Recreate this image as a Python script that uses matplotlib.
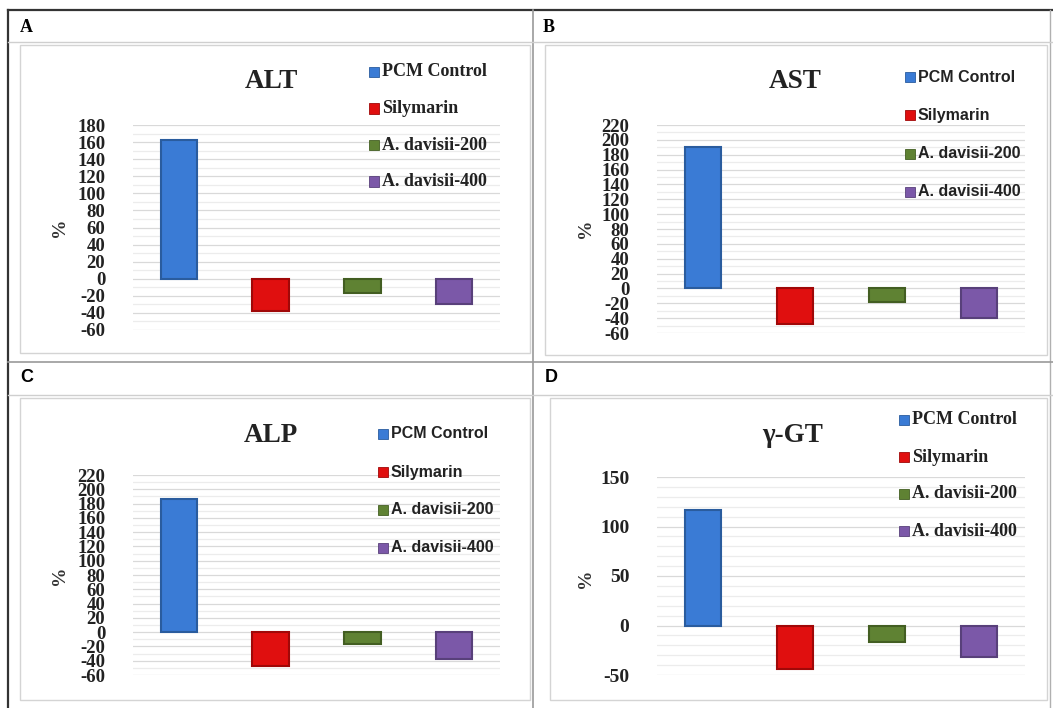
import matplotlib
matplotlib.use('Agg')
import matplotlib.pyplot as plt
from matplotlib.patches import Rectangle
from matplotlib.lines import Line2D

plt.rcParams['axes.unicode_minus'] = False

# values (percent change)
groups = ['PCM Control', 'Silymarin', 'A. davisii-200', 'A. davisii-400']
alt = [163, -38, -17, -30]
ast = [190, -48, -18, -40]
alp = [186, -47, -16, -38]
ggt = [117, -44, -17, -32]

titles = ['ALT', 'AST', 'ALP', 'γ-GT']
letters = ['A', 'B', 'C', 'D']

bar_colors = ['#3a7bd5', '#e00f0f', '#5f8233', '#7b58a8']
edge_colors = ['#2a5c9e', '#a00808', '#435e22', '#58407a']

W, H = 1053, 708
fig = plt.figure(figsize=(W / 100, H / 100), dpi=100)
fig.patch.set_facecolor('white')

def fx(x):
    return x / W

def fy(y):
    return 1 - y / H

def hline(y, x0, x1, color, lw=1.0):
    fig.add_artist(Line2D([fx(x0), fx(x1)], [fy(y), fy(y)], color=color, lw=lw))

def vline(x, y0, y1, color, lw=1.0):
    fig.add_artist(Line2D([fx(x), fx(x)], [fy(y0), fy(y1)], color=color, lw=lw))

# outer frame / table grid
hline(10, 8, 1053, '#333333', 1.6)
vline(8, 10, 708, '#333333', 1.6)
vline(533, 10, 708, '#9a9a9a', 1.2)
vline(1050, 10, 708, '#b0b0b0', 1.0)
hline(362, 8, 1053, '#9a9a9a', 1.2)
hline(42, 8, 1053, '#cfcfcf', 1.0)
hline(395, 8, 1053, '#cfcfcf', 1.0)

# chart-area boxes
boxes = [(20, 45, 530, 353), (545, 45, 1047, 355), (20, 398, 530, 700), (550, 398, 1047, 700)]
for (x0, y0, x1, y1) in boxes:
    fig.add_artist(Rectangle((fx(x0), fy(y1)), fx(x1) - fx(x0), fy(y0) - fy(y1),
                             fill=False, edgecolor='#d4d4d4', lw=1.0, transform=fig.transFigure))

panels = [
    dict(data=alt, plot=(133, 125, 500, 330), ylim=(-60, 180), step=20, minor=10,
         serif=True, letter_xy=(20, 27), title_xy=(271, 82), pct_xy=(60, 227),
         leg_xy=(369, 72), leg_dy=36.5, tick_size=13.5),
    dict(data=ast, plot=(657, 125, 1025, 333), ylim=(-60, 220), step=20, minor=10,
         serif=False, letter_xy=(543, 27), title_xy=(795, 82), pct_xy=(585, 228),
         leg_xy=(905, 77), leg_dy=38.3, tick_size=13.5),
    dict(data=alp, plot=(133, 475, 500, 675), ylim=(-60, 220), step=20, minor=10,
         serif=False, letter_xy=(20, 378), title_xy=(271, 435), pct_xy=(60, 575),
         leg_xy=(378, 434), leg_dy=38, tick_size=13.5),
    dict(data=ggt, plot=(657, 477, 1025, 675), ylim=(-50, 150), step=50, minor=10,
         serif=True, letter_xy=(545, 378), title_xy=(793, 435), pct_xy=(585, 578),
         leg_xy=(899, 420), leg_dy=37, tick_size=14),
]

for i, p in enumerate(panels):
    x0, y0, x1, y1 = p['plot']
    ax = fig.add_axes([fx(x0), fy(y1), fx(x1) - fx(x0), fy(y0) - fy(y1)])
    lo, hi = p['ylim']
    # light grid
    for v in range(lo, hi + 1, p['minor']):
        major = (v - lo) % p['step'] == 0
        ax.axhline(v, color='#d9d9d9' if major else '#ececec', lw=0.9, zorder=0)
    ax.bar(range(len(groups)), p['data'], width=0.4, color=bar_colors,
           edgecolor=edge_colors, linewidth=1.5, zorder=3)
    ax.set_xlim(-0.5, 3.5)
    ax.set_ylim(lo, hi)
    ax.set_yticks(range(lo, hi + 1, p['step']))
    ax.set_xticks([])
    for s in ax.spines.values():
        s.set_visible(False)
    ax.tick_params(axis='y', length=0, pad=20)
    for lab in ax.get_yticklabels():
        lab.set_fontfamily('Liberation Serif')
        lab.set_fontweight('bold')
        lab.set_fontsize(p['tick_size'])
        lab.set_color('#222222')
    ax.patch.set_alpha(0)

    lx, ly = p['letter_xy']
    fig.text(fx(lx), fy(ly), letters[i], ha='left', va='center', fontsize=13,
             fontweight='bold',
             family='Liberation Serif' if i < 2 else 'Liberation Sans')
    tx, ty = p['title_xy']
    fig.text(fx(tx), fy(ty), titles[i], ha='center', va='center', fontsize=19.5,
             fontweight='bold', family='Liberation Serif', color='#222222')
    px, py = p['pct_xy']
    fig.text(fx(px), fy(py), '%', ha='center', va='center', rotation=90,
             fontsize=14, fontweight='bold', family='Liberation Serif', color='#333333')

    gx, gy = p['leg_xy']
    for k, g in enumerate(groups):
        yy = gy + k * p['leg_dy']
        fig.add_artist(Rectangle((fx(gx), fy(yy + 5)), fx(10), 10 / H,
                                 facecolor=bar_colors[k], edgecolor=edge_colors[k],
                                 lw=0.6, transform=fig.transFigure))
        if p['serif']:
            fig.text(fx(gx + 13), fy(yy), g, ha='left', va='center', fontsize=13,
                     fontweight='bold', family='Liberation Serif', color='#222222')
        else:
            fig.text(fx(gx + 13), fy(yy), g, ha='left', va='center', fontsize=11.5,
                     fontweight='bold', family='Liberation Sans', color='#222222')

fig.savefig('out.png', dpi=100)
